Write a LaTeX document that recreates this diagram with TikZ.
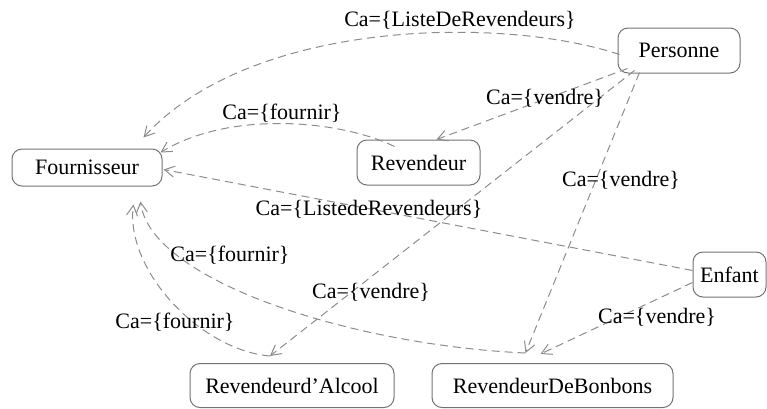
\documentclass[tikz,border=0pt]{standalone}
\usepackage{fontspec}
\setmainfont{Liberation Serif}
\usetikzlibrary{arrows.meta}
\begin{document}
\begin{tikzpicture}[x=0.5pt,y=-0.5pt,
  cls/.style={draw=black!55, line width=0.5pt, rounded corners=5pt, inner sep=0pt, font=\fontsize{11}{13}\selectfont},
  lbl/.style={inner sep=0pt, font=\fontsize{11}{13}\selectfont},
  dep/.style={draw=black!45, line width=0.5pt, dash pattern=on 4pt off 2.5pt, -{Straight Barb[length=5pt,width=5.5pt]}}]
\useasboundingbox (0,0) rectangle (767,408);
% classes
\node[cls, minimum width=61pt, minimum height=22.5pt] (P) at (679,50.5) {Personne};
\node[cls, minimum width=75pt, minimum height=18.5pt] (F) at (87,167.5) {Fournisseur};
\node[cls, minimum width=61.5pt, minimum height=22.5pt] (R) at (418.5,162.5) {Revendeur};
\node[cls, minimum width=36.5pt, minimum height=22.5pt] (E) at (729.5,274.5) {Enfant};
\node[cls, minimum width=102pt, minimum height=22pt] (RA) at (292,385.5) {Revendeurd’Alcool};
\node[cls, minimum width=120.5pt, minimum height=22pt] (RB) at (552.5,385.5) {RevendeurDeBonbons};
% dependencies
\draw[dep] ([shift={(2,4)}]P.west) .. controls (500,15) and (250,20) .. ([shift={(-19,-11)}]F.north east);
\draw[dep] ([shift={(38,7)}]R.north west) .. controls (340,120) and (230,110) .. ([shift={(-2,4)}]F.north east);
\draw[dep] ([shift={(10,-5)}]P.south west) -- ([shift={(18,0)}]R.north);
\draw[dep] ([shift={(17,-3)}]P.south west) -- ([shift={(-22,-7)}]RA.north);
\draw[dep] ([shift={(22,-1)}]P.south west) -- ([shift={(-27,-10)}]RB.north);
\draw[dep] ([shift={(0,-4)}]E.west) -- ([shift={(1,2)}]F.east);
\draw[dep] ([shift={(0,8)}]E.west) -- ([shift={(-12,-9)}]RB.north);
\draw[dep] ([shift={(-27,-10)}]RB.north) .. controls (350,345) and (150,280) .. ([shift={(-22,15)}]F.south east);
\draw[dep] ([shift={(-22,-7)}]RA.north) .. controls (200,350) and (125,270) .. ([shift={(-29,18)}]F.south east);
% labels
\node[lbl] (l1) at (460,20) {Ca=\{ListeDeRevendeurs\}};
\node[lbl] (l2) at (282,113) {Ca=\{fournir\}};
\node[lbl] (l3) at (545,98) {Ca=\{vendre\}};
\node[lbl] (l4) at (621,180) {Ca=\{vendre\}};
\node[lbl] (l5) at (369,209) {Ca=\{ListedeRevendeurs\}};
\node[lbl] (l6) at (230,255) {Ca=\{fournir\}};
\node[lbl] (l7) at (371,292) {Ca=\{vendre\}};
\node[lbl] (l8) at (175,322) {Ca=\{fournir\}};
\node[lbl] (l9) at (657,317) {Ca=\{vendre\}};
\end{tikzpicture}
\end{document}
